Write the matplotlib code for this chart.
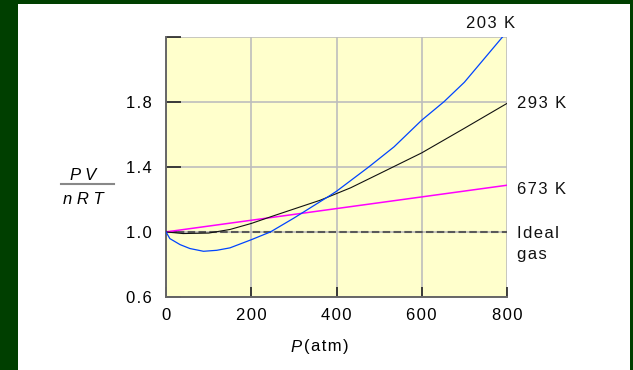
import matplotlib.pyplot as plt
from matplotlib.patches import Rectangle

# Compressibility factor PV/nRT of N2 against pressure
p_203 = [0, 9, 33, 56, 88, 119, 150, 200, 245, 300, 386, 400, 476, 535, 600, 652, 700, 790]
z_203 = [1.0, 0.959, 0.922, 0.898, 0.881, 0.887, 0.902, 0.952, 1.0, 1.085, 1.226, 1.25,
         1.4, 1.523, 1.687, 1.8, 1.92, 2.2]

p_293 = [0, 40, 100, 150, 200, 250, 315, 362, 433, 500, 600, 700, 800]
z_293 = [1.0, 0.99, 0.993, 1.015, 1.052, 1.097, 1.154, 1.195, 1.271, 1.357, 1.486, 1.637, 1.79]

p_673 = [0, 800]
z_673 = [1.0, 1.287]

p_ideal = [0, 800]
z_ideal = [1.0, 1.0]

x_ticks = [0, 200, 400, 600, 800]
x_tick_labels = ['0', '200', '400', '600', '800']
y_ticks = [0.6, 1.0, 1.4, 1.8, 2.2]
y_tick_labels = ['0.6', '1.0', '1.4', '1.8', '']

W, H = 633, 370
FS = 12
plt.rcParams['font.family'] = ['Liberation Sans', 'DejaVu Sans']


def spaced(s):
    # loose tracking: hair space between letters
    return '\u200a'.join(s)


fig = plt.figure(figsize=(W / 100, H / 100), dpi=100)
fig.patch.set_facecolor('#003f00')
fig.patches.append(Rectangle((18 / W, 0), 612 / W, 366 / H, transform=fig.transFigure,
                             facecolor='white', edgecolor='none', zorder=-5))

ax = fig.add_axes([166 / W, 1 - 297 / H, 341 / W, 260.3 / H])
ax.set_facecolor('#ffffcc')

ax.plot(p_ideal, z_ideal, color='#5a5a5a', lw=1.5, dashes=(3.6, 1.6), zorder=3)
ax.plot(p_673, z_673, color='#ff00ff', lw=1.1, zorder=4)
ax.plot(p_293, z_293, color='#111111', lw=0.8, zorder=4)
ax.plot(p_203, z_203, color='#0044ff', lw=0.9, zorder=5)

ax.set_xlim(0, 800)
ax.set_ylim(0.6, 2.2)
ax.set_xticks(x_ticks)
ax.set_xticklabels([spaced(t) for t in x_tick_labels])
ax.set_yticks(y_ticks)
ax.set_yticklabels([spaced(t) for t in y_tick_labels])
ax.grid(True, color='#bdbdbd', lw=1.2, zorder=1)
ax.set_axisbelow(True)

for side in ['top', 'right']:
    ax.spines[side].set_visible(False)
for side in ['left', 'bottom']:
    ax.spines[side].set_color('#666666')
    ax.spines[side].set_linewidth(1.4)

ax.tick_params(axis='x', direction='in', length=7, width=1.2, color='#222222',
               labelsize=FS, pad=8)
ax.tick_params(axis='y', direction='in', length=11, width=1.2, color='#222222',
               labelsize=FS, pad=10)

# curve labels on the right
lab = dict(fontsize=FS, color='#111111', va='center')
fig.text(466 / W, 1 - 23 / H, spaced('203 K'), **lab)
fig.text(517 / W, 1 - 104 / H, spaced('293 K'), **lab)
fig.text(517 / W, 1 - 189 / H, spaced('673 K'), **lab)
fig.text(517 / W, 1 - 234 / H, spaced('Ideal'), **lab)
fig.text(517 / W, 1 - 255 / H, spaced('gas'), **lab)

# axis titles
fig.text(290 / W, 1 - 347 / H, 'P', fontsize=FS, style='italic', ha='left', va='center')
fig.text(304 / W, 1 - 347 / H, spaced('(atm)'), fontsize=FS, ha='left', va='center')
fig.text(83 / W, 1 - 176 / H, 'P V', fontsize=FS, style='italic', ha='center', va='center')
fig.text(83 / W, 1 - 200 / H, 'n R T', fontsize=FS, style='italic', ha='center', va='center')
fig.lines.append(plt.Line2D([61 / W, 114 / W], [1 - 184 / H, 1 - 184 / H],
                            transform=fig.transFigure, color='#888888', lw=1.5))

fig.savefig('out.png', dpi=100, facecolor=fig.get_facecolor())
